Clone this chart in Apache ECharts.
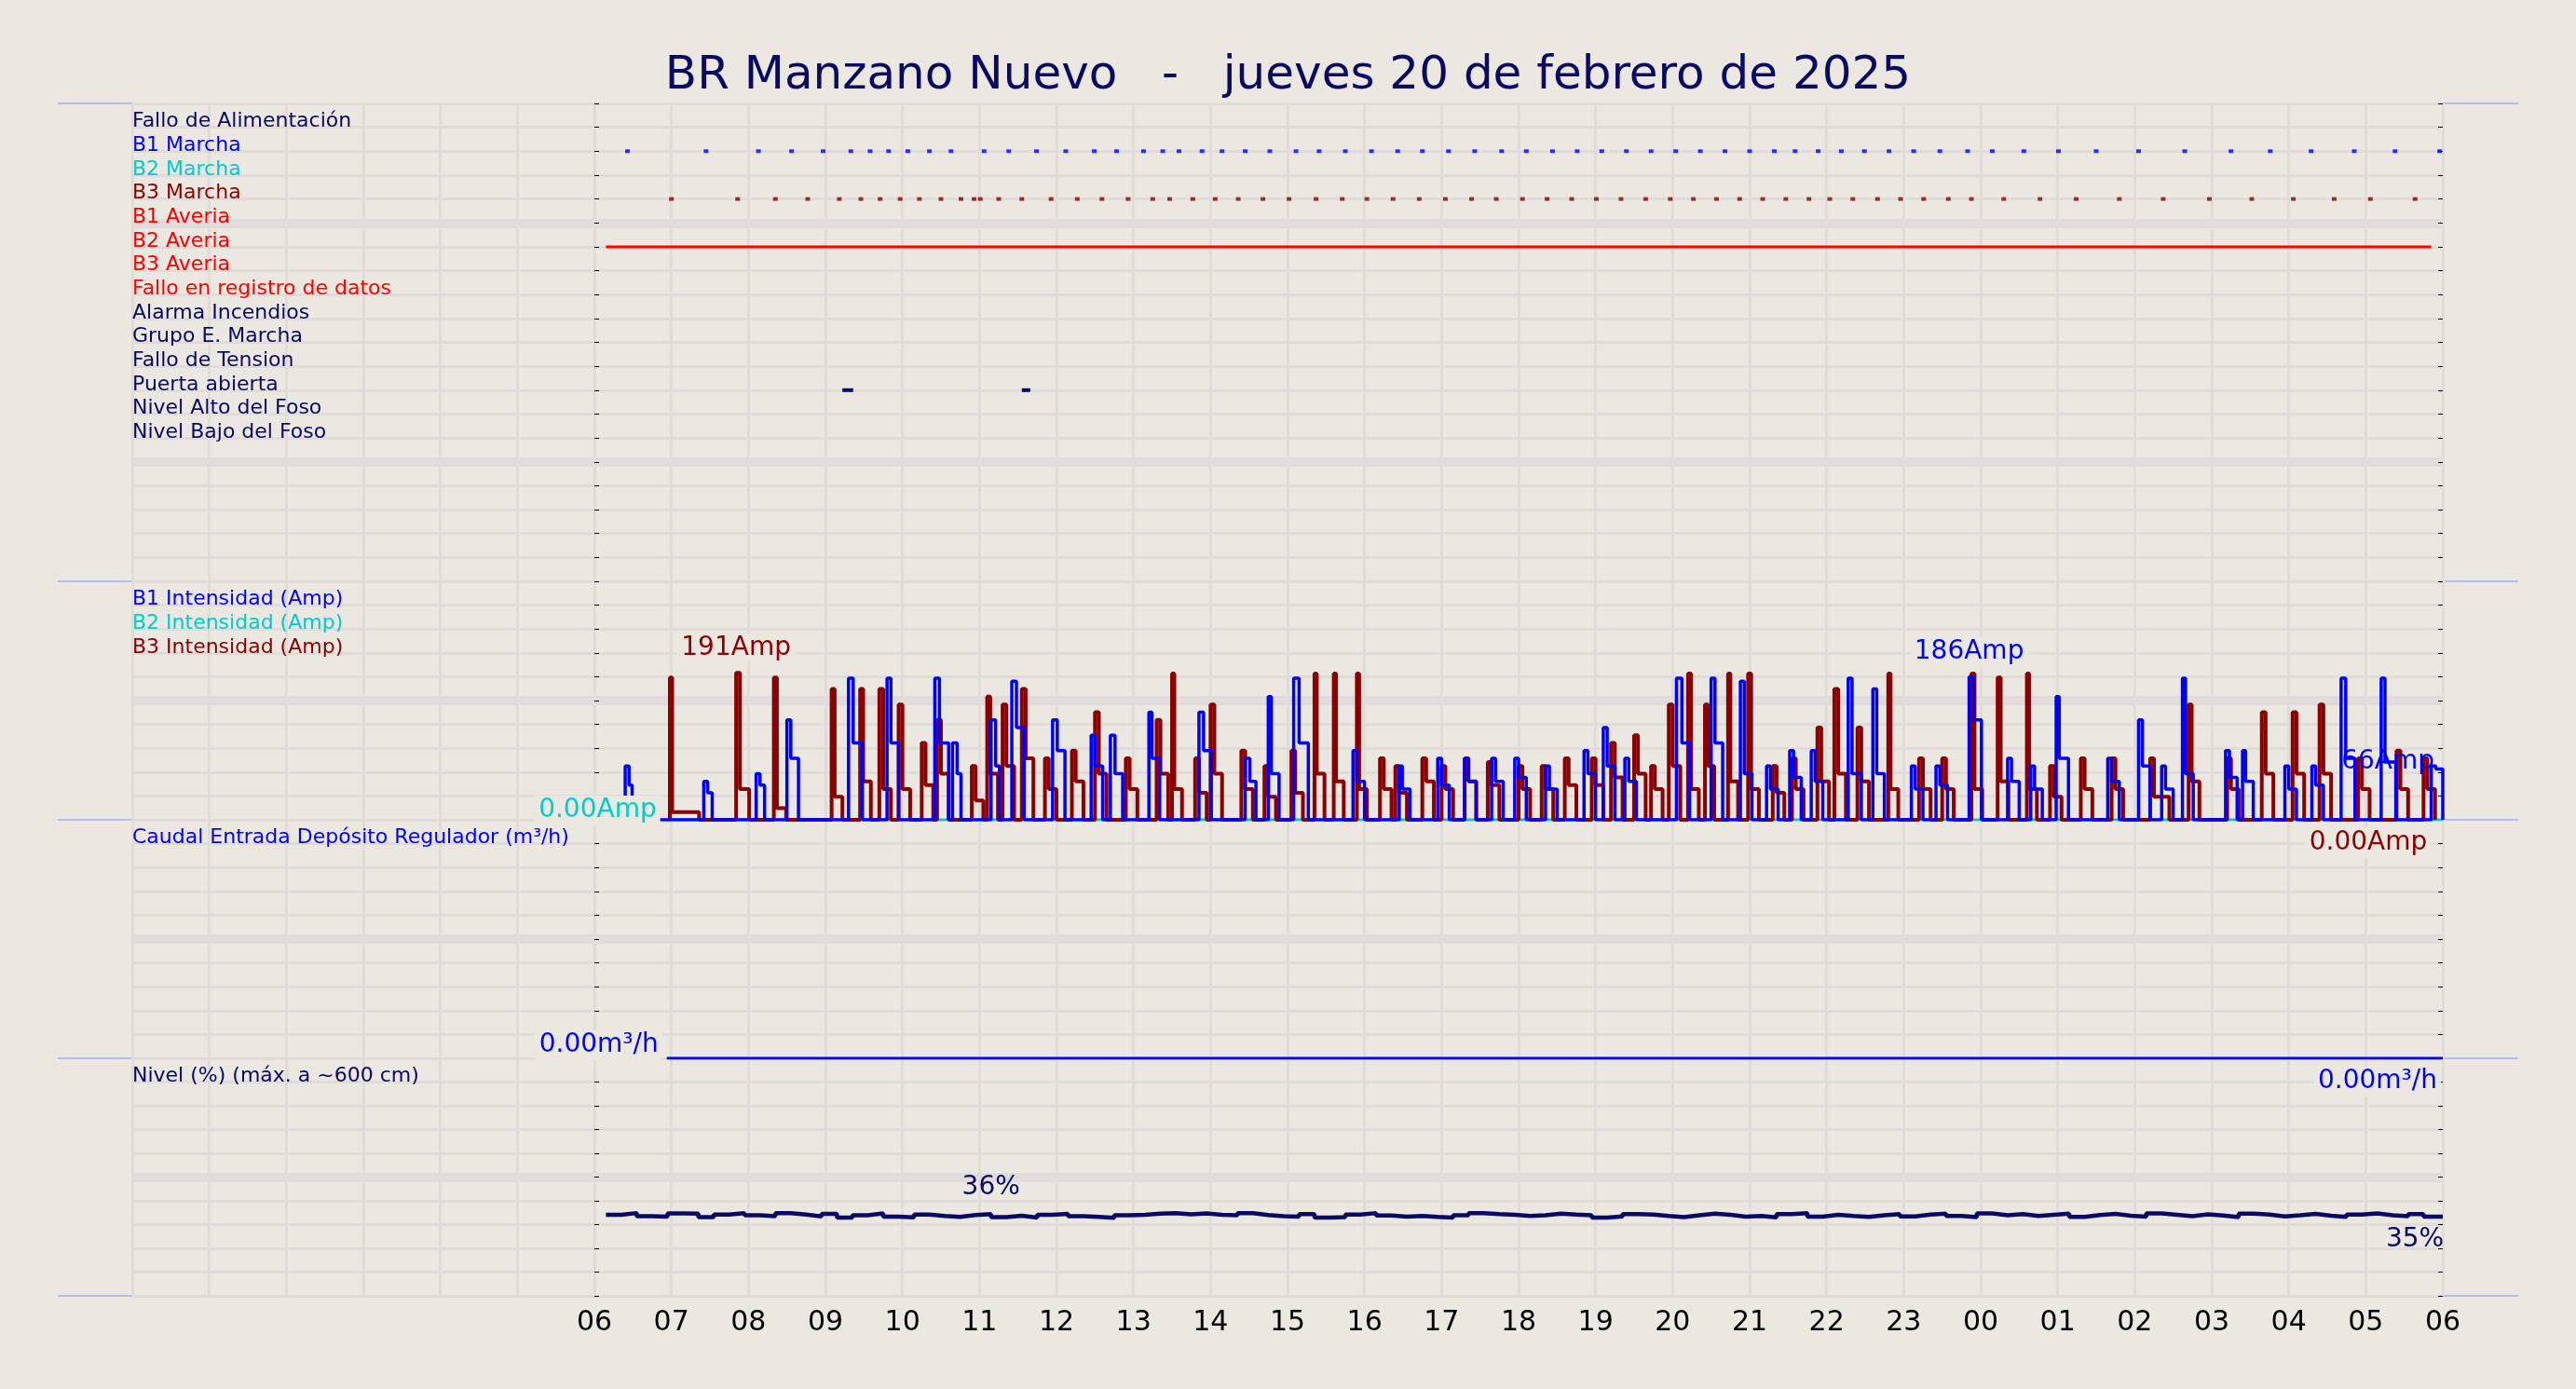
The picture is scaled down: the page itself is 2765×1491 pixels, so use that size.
<!DOCTYPE html>
<html><head><meta charset="utf-8">
<script src="https://cdn.jsdelivr.net/npm/echarts@6/dist/echarts.min.js"></script>
<style>html,body{margin:0;padding:0;background:#EBE7E1}#c{width:2765px;height:1491px}</style>
</head><body><div id="c"></div>
<script>
const titleText = 'BR Manzano Nuevo   -   jueves 20 de febrero de 2025';
const stateLabels = ['Fallo de Alimentación','B1 Marcha','B2 Marcha','B3 Marcha','B1 Averia','B2 Averia','B3 Averia','Fallo en registro de datos','Alarma Incendios','Grupo E. Marcha','Fallo de Tension','Puerta abierta','Nivel Alto del Foso','Nivel Bajo del Foso'];
const stateColors = ['#0a0a64','#0000ff','#00cccc','#8b0000','#ff0000','#ff0000','#ff0000','#ff0000','#0a0a64','#0a0a64','#0a0a64','#0a0a64','#0a0a64','#0a0a64'];
// hours since 06:00
const b1MarchaTimes = [0.43,1.45,2.13,2.56,2.97,3.33,3.58,3.82,4.07,4.35,4.63,5.06,5.38,5.74,6.12,6.49,6.78,7.13,7.38,7.59,7.89,8.15,8.45,8.77,9.11,9.41,9.75,10.09,10.43,10.75,11.09,11.43,11.78,12.1,12.44,12.76,13.08,13.4,13.72,14.04,14.36,14.68,15.0,15.32,15.59,15.89,16.19,16.49,16.81,17.13,17.47,17.83,18.15,18.56,19.01,19.5,20.05,20.65,21.25,21.76,22.29,22.85,23.38,23.96];
const b3MarchaTimes = [1.0,1.86,2.35,2.77,3.18,3.46,3.71,3.97,4.22,4.5,4.76,4.93,5.01,5.25,5.55,5.93,6.27,6.59,6.93,7.25,7.47,7.77,8.06,8.36,8.68,9.02,9.37,9.71,10.03,10.37,10.71,11.05,11.39,11.71,12.05,12.37,12.69,13.01,13.33,13.65,13.97,14.27,14.57,14.87,15.17,15.47,15.77,16.04,16.34,16.66,16.96,17.26,17.58,17.88,18.3,18.77,19.24,19.8,20.37,20.97,21.52,22.06,22.59,23.06,23.64];
const b2AveriaSpan = [0.15, 23.85];
const puertaSpans = [[3.22,3.36],[5.55,5.66]];
// pulses: [start h, peak A, peak dur h, tail A, tail dur h]
const b1Pulses = [[0.4,70,0.05,45,0.04],[1.42,50,0.05,35,0.06],[2.1,60,0.05,45,0.06],[2.5,130,0.05,80,0.1],[3.3,184,0.06,100,0.12],[3.8,184,0.05,100,0.1],[4.42,184,0.06,100,0.12],[4.65,100,0.06,60,0.05],[5.15,130,0.06,70,0.05],[5.42,180,0.06,120,0.1],[5.95,130,0.06,90,0.1],[6.45,110,0.05,70,0.1],[6.7,110,0.06,60,0.1],[7.2,140,0.04,80,0.1],[7.85,140,0.06,90,0.1],[8.45,80,0.06,50,0.08],[8.75,160,0.04,60,0.1],[9.08,184,0.07,100,0.12],[9.85,90,0.05,50,0.1],[10.45,70,0.04,40,0.1],[10.95,80,0.05,45,0.1],[11.3,80,0.05,50,0.1],[11.65,80,0.05,50,0.1],[11.95,80,0.05,55,0.1],[12.35,70,0.05,40,0.1],[12.85,90,0.05,60,0.1],[13.1,120,0.05,70,0.1],[13.38,80,0.05,50,0.1],[14.05,184,0.07,100,0.1],[14.5,184,0.05,100,0.1],[14.88,180,0.05,60,0.1],[15.22,70,0.05,40,0.1],[15.52,90,0.05,55,0.1],[15.8,90,0.05,50,0.1],[16.28,184,0.05,60,0.12],[16.6,170,0.05,60,0.1],[17.1,70,0.05,40,0.1],[17.42,70,0.05,45,0.1],[17.85,186,0.06,130,0.1],[18.35,80,0.05,50,0.1],[18.65,70,0.05,40,0.1],[18.98,160,0.04,80,0.12],[19.65,80,0.05,50,0.1],[20.05,130,0.05,70,0.1],[20.35,70,0.05,40,0.1],[20.62,184,0.04,60,0.1],[21.18,90,0.05,55,0.1],[21.4,90,0.04,50,0.1],[21.95,70,0.05,40,0.1],[22.3,70,0.05,45,0.1],[22.68,184,0.06,80,0.12],[23.2,184,0.05,75,0.14],[23.85,70,0.06,66,0.09]];
const b3Pulses = [[0.98,185,0.03,10,0.35],[1.84,191,0.05,40,0.12],[2.33,185,0.04,15,0.12],[3.08,170,0.04,30,0.1],[3.45,170,0.04,50,0.1],[3.7,170,0.05,40,0.1],[3.95,150,0.05,40,0.1],[4.25,100,0.05,45,0.1],[4.45,130,0.05,60,0.1],[4.9,70,0.05,25,0.1],[5.1,160,0.04,60,0.1],[5.3,150,0.05,70,0.1],[5.55,170,0.05,80,0.1],[5.85,80,0.05,40,0.1],[6.2,90,0.05,50,0.1],[6.5,140,0.05,60,0.1],[6.9,80,0.05,40,0.1],[7.3,130,0.05,60,0.1],[7.5,190,0.03,40,0.1],[7.8,80,0.05,35,0.1],[8.0,150,0.05,60,0.1],[8.4,90,0.05,40,0.1],[8.7,70,0.05,30,0.1],[9.05,90,0.05,35,0.1],[9.35,190,0.03,60,0.1],[9.6,190,0.03,50,0.1],[9.9,190,0.03,40,0.1],[10.2,80,0.05,40,0.1],[10.4,70,0.05,35,0.1],[10.75,80,0.05,50,0.1],[11.0,70,0.05,40,0.1],[11.3,80,0.05,50,0.1],[11.6,75,0.05,45,0.1],[12.0,70,0.05,40,0.1],[12.3,70,0.05,40,0.1],[12.6,80,0.05,45,0.1],[12.95,80,0.05,45,0.1],[13.2,100,0.05,55,0.1],[13.5,110,0.05,60,0.1],[13.72,70,0.05,40,0.1],[13.95,150,0.05,70,0.1],[14.2,190,0.04,40,0.1],[14.42,150,0.04,70,0.08],[14.72,190,0.03,50,0.1],[14.98,190,0.04,40,0.1],[15.3,70,0.05,35,0.1],[15.55,80,0.05,40,0.1],[15.88,120,0.05,50,0.1],[16.1,170,0.05,60,0.1],[16.4,120,0.05,50,0.1],[16.8,190,0.03,40,0.1],[17.2,80,0.05,40,0.1],[17.5,80,0.05,40,0.1],[17.88,190,0.04,40,0.1],[18.22,185,0.04,50,0.1],[18.6,190,0.03,40,0.1],[18.9,70,0.05,30,0.1],[19.3,80,0.05,40,0.1],[19.7,80,0.05,40,0.1],[20.2,80,0.05,30,0.2],[20.7,150,0.04,50,0.1],[21.2,80,0.05,40,0.1],[21.65,140,0.05,60,0.1],[22.05,140,0.05,60,0.1],[22.4,150,0.05,60,0.1],[22.9,80,0.05,40,0.1],[23.4,90,0.05,40,0.1],[23.75,80,0.05,40,0.1]];
const b2Span = [0.94, 24];
const caudalSpan = [0.94, 24];
const caudalValue = 0;
const nivelStart = 0.15, nivelStep = 0.2;
const nivelValues = [35.8,36.6,35.2,35.0,36.4,36.3,34.8,35.9,36.5,35.6,35.2,36.5,35.9,35.1,36.2,34.6,35.6,36.4,35.0,34.7,35.9,35.3,34.9,35.7,36.1,34.8,35.4,34.6,35.8,36.2,35.2,34.9,34.5,35.6,35.8,36.3,36.5,36.0,36.4,35.8,35.6,36.5,35.7,35.2,35.0,36.1,34.6,34.8,35.9,36.6,35.5,35.0,35.3,34.9,34.6,35.6,36.5,36.1,35.8,35.3,35.6,36.3,35.9,35.6,34.6,35.1,36.1,35.9,35.3,34.8,35.6,36.3,35.8,35.0,35.3,34.7,36.1,36.5,35.0,35.8,35.3,34.9,35.6,36.1,35.1,35.9,36.3,35.3,34.8,36.4,35.6,36.1,35.3,35.8,36.3,34.9,35.7,36.2,35.4,35.0,36.4,35.8,35.2,36.0,35.5,34.8,36.3,35.9,35.1,35.6,36.2,35.4,34.9,35.9,36.4,35.6,35.2,36.1,35.0];

function pulsesToLine(pulses){
  const out=[]; let last=-99;
  pulses.forEach(p=>{
    let t=Math.max(p[0],last+0.005);
    const e1=t+p[2], e2=e1+p[4];
    out.push([t,0],[t,p[1]],[e1,p[1]],[e1,p[3]],[e2,p[3]],[e2,0]);
    last=e2;
  });
  return out;
}
const nivelData = nivelValues.map((v,i)=>[nivelStart+i*nivelStep,v]);
nivelData.push([24,nivelValues[nivelValues.length-1]]);

const BG='#EBE7E1', GL='#E0DCDA', FONT='DejaVu Sans';
const tops=[111,624,880,1136,1391];
const grids=[0,1,2,3].map(i=>({left:142,right:143,top:tops[i],height:tops[i+1]-tops[i]}));
const xAxes=grids.map((g,i)=>({type:'value',gridIndex:i,min:-6,max:24,interval:1,
  axisLine:{show:false},axisTick:{show:false},
  splitLine:{show:true,lineStyle:{color:GL,width:3}},
  axisLabel:{show:i===3,fontFamily:FONT,fontSize:30,color:'#000',margin:14,
    formatter:v=>v<0?'':String((6+v)%24).padStart(2,'0')}}));
const yRange=[[0,20,1,true],[0,310,31,false],[0,10,1,false],[0,105,10.5,false]];
const panelLabels=[
  v=>(v>=1&&v<=14)?stateLabels[v-1]:'',
  v=>({279:'B1 Intensidad (Amp)',248:'B2 Intensidad (Amp)',217:'B3 Intensidad (Amp)'}[Math.round(v)]||''),
  v=>Math.round(v)===9?'Caudal Entrada Depósito Regulador (m³/h)':'',
  v=>Math.round(v*10)===945?'Nivel (%) (máx. a ~600 cm)':''
];
const panelColors=[
  v=>(v>=1&&v<=14)?stateColors[v-1]:'#000',
  v=>({279:'#0000ff',248:'#00cccc',217:'#8b0000'}[Math.round(v)]||'#000'),
  v=>'#0000ff', v=>'#0a0a64'
];
const yAxes=[];
yRange.forEach((r,i)=>{
  yAxes.push({type:'value',gridIndex:i,min:r[0],max:r[1],interval:r[2],inverse:r[3],
    axisLine:{show:false},axisTick:{show:true,inside:true,length:5,lineStyle:{color:'#000'}},
    splitLine:{show:true,lineStyle:{color:GL,width:3}},
    axisLabel:{inside:true,verticalAlign:'bottom',lineHeight:12,margin:0,fontFamily:FONT,fontSize:22,
      formatter:panelLabels[i],color:panelColors[i]}});
  yAxes.push({type:'value',gridIndex:i,position:'right',min:r[0],max:r[1],interval:r[2],inverse:r[3],
    axisLine:{show:false},axisTick:{show:true,length:5,inside:true,lineStyle:{color:'#000'}},
    splitLine:{show:false},axisLabel:{show:false}});
});
const bandStyle={silent:true,z:-1,symbol:'none',label:{show:false},lineStyle:{color:'#E1DCDB',width:10,type:'solid'}};
function band(vals){return Object.assign({},bandStyle,{data:vals.map(v=>({yAxis:v}))});}
const lbl=(txt,color,pos,extra)=>Object.assign({show:true,formatter:txt,color,position:pos,fontFamily:FONT,fontSize:28,backgroundColor:BG,padding:[2,4]},extra||{});
const LW=4;
const series=[
  {type:'line',xAxisIndex:0,yAxisIndex:0,z:-1,data:[],markLine:band([5,15])},
  {type:'scatter',xAxisIndex:0,yAxisIndex:0,symbol:'rect',symbolSize:[5,4],itemStyle:{color:'#0000ff'},data:b1MarchaTimes.map(t=>[t,2])},
  {type:'scatter',xAxisIndex:0,yAxisIndex:0,symbol:'rect',symbolSize:[5,4],itemStyle:{color:'#8b0000'},data:b3MarchaTimes.map(t=>[t,4])},
  {type:'line',xAxisIndex:0,yAxisIndex:0,symbol:'none',lineStyle:{color:'#ff0000',width:3},data:[[b2AveriaSpan[0],6],[b2AveriaSpan[1],6]]},
  ...puertaSpans.map(s=>({type:'line',xAxisIndex:0,yAxisIndex:0,symbol:'none',lineStyle:{color:'#0a0a64',width:4},data:[[s[0],12],[s[1],12]]})),
  {type:'line',xAxisIndex:1,yAxisIndex:2,z:-1,data:[],markLine:band([155])},
  {type:'line',xAxisIndex:1,yAxisIndex:2,symbol:'none',lineStyle:{color:'#00cccc',width:3},data:[[b2Span[0],0],[b2Span[1],0]],
    markPoint:{symbol:'circle',symbolSize:0,data:[{coord:[b2Span[0],0],label:lbl('0.00Amp','#00cccc','left',{offset:[-2,-10]})}]}},
  {type:'line',xAxisIndex:1,yAxisIndex:2,symbol:'none',lineStyle:{color:'#8b0000',width:LW},data:pulsesToLine(b3Pulses),
    markPoint:{symbol:'circle',symbolSize:0,data:[{type:'max',label:lbl(p=>Math.round(p.value)+'Amp','#8b0000','top',{offset:[0,-6]})},
      {coord:[24,0],label:lbl('0.00Amp','#8b0000','bottom',{offset:[-80,4]})}]}},
  {type:'line',xAxisIndex:1,yAxisIndex:2,symbol:'none',lineStyle:{color:'#0000ff',width:LW-0.5},data:pulsesToLine(b1Pulses),z:3,
    markPoint:{symbol:'circle',symbolSize:0,data:[{type:'max',label:lbl(p=>Math.round(p.value)+'Amp','#0000ff','top',{offset:[0,-6]})},
      {coord:[24,b1Pulses[b1Pulses.length-1][3]],label:lbl('66Amp','#0000ff','left',{offset:[0,-8],backgroundColor:'transparent'})}]}},
  {type:'line',xAxisIndex:2,yAxisIndex:4,z:-1,data:[],markLine:band([5])},
  {type:'line',xAxisIndex:2,yAxisIndex:4,symbol:'none',lineStyle:{color:'#0000ff',width:3},data:[[caudalSpan[0],caudalValue],[caudalSpan[1],caudalValue]],
    markPoint:{symbol:'circle',symbolSize:0,data:[{coord:[caudalSpan[0],caudalValue],label:lbl('0.00m³/h','#0000ff','left',{offset:[0,-14]})},
      {coord:[24,caudalValue],label:lbl('0.00m³/h','#0000ff','bottom',{offset:[-70,4]})}]}},
  {type:'line',xAxisIndex:3,yAxisIndex:6,z:-1,data:[],markLine:band([52.5])},
  {type:'line',xAxisIndex:3,yAxisIndex:6,symbol:'none',step:'end',lineStyle:{color:'#0a0a64',width:4.5},data:nivelData,
    markPoint:{symbol:'circle',symbolSize:0,data:[{coord:[5.15,36],label:lbl('36%','#0a0a64','top',{offset:[0,-8],backgroundColor:'transparent'})},
      {coord:[24,35],label:lbl('35%','#0a0a64','bottom',{offset:[-30,4],backgroundColor:'transparent'})}]}}
];
const sep=[];
tops.forEach(y=>sep.push({type:'line',shape:{x1:62,y1:y,x2:2703,y2:y},style:{stroke:'#B8B8F2',lineWidth:2},z:-1}));
sep.push({type:'line',shape:{x1:638,y1:111,x2:638,y2:1391},style:{stroke:'#B8B8F2',lineWidth:2},z:-1});
const chart=echarts.init(document.getElementById('c'));
chart.setOption({backgroundColor:BG,animation:false,
  title:{text:titleText,left:'center',top:52,textStyle:{fontFamily:FONT,fontSize:50,fontWeight:'normal',color:'#0a0a64'}},
  graphic:sep,grid:grids,xAxis:xAxes,yAxis:yAxes,series});
</script></body></html>
